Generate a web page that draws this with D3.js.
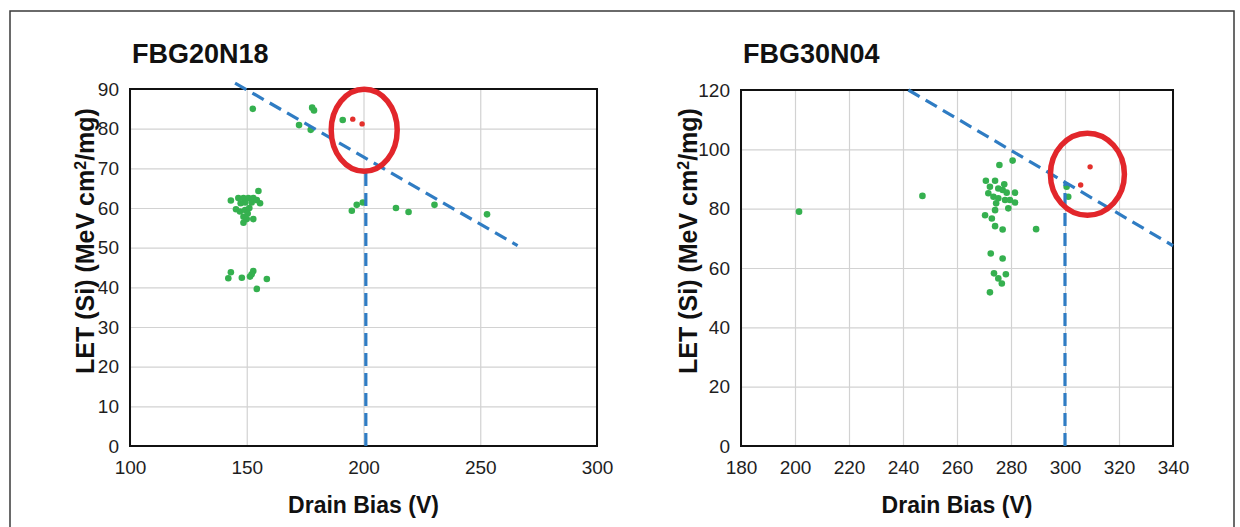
<!DOCTYPE html>
<html>
<head>
<meta charset="utf-8">
<script src="https://cdn.jsdelivr.net/npm/d3@7"></script>
<style>
  body { margin: 0; background: #fff; }
  text { font-family: "Liberation Sans", Arial, sans-serif; }
</style>
</head>
<body>
<script>
// ---- data ----
var leftTitle = "FBG20N18";
var leftXTicks = [100, 150, 200, 250, 300];
var leftYTicks = [0, 10, 20, 30, 40, 50, 60, 70, 80, 90];
var leftGreen = [
  [152.6, 85.0], [178.0, 85.3], [178.8, 84.6], [172.4, 80.9], [177.4, 79.7], [191.1, 82.2],
  [143.2, 61.9], [155.0, 64.3], [146.4, 62.5], [148.6, 62.5], [150.7, 62.5], [152.8, 62.5],
  [152.1, 61.4], [149.3, 61.4], [147.4, 61.2], [155.7, 61.2], [154.3, 62.0], [145.4, 59.7],
  [147.1, 59.1], [149.3, 59.5], [151.1, 60.0], [148.6, 57.8], [150.0, 57.2], [152.8, 57.2],
  [148.6, 56.3], [150.4, 58.6],
  [143.2, 43.8], [142.1, 42.3], [147.9, 42.4], [151.4, 42.7], [152.8, 44.1], [152.1, 43.3],
  [158.6, 42.1], [154.3, 39.6],
  [195.0, 59.3], [197.1, 60.8], [199.7, 61.4], [213.9, 60.0], [219.3, 59.0], [230.4, 60.8],
  [252.9, 58.4]
];
var leftRed = [[195.4, 82.4], [199.4, 81.2]];
var leftSlope = [[145, 91.5], [266, 50.5]];
var leftCut = [[201, 0], [201, 70]];
var leftCircle = [200.3, 79.6];

var rightTitle = "FBG30N04";
var rightXTicks = [180, 200, 220, 240, 260, 280, 300, 320, 340];
var rightYTicks = [0, 20, 40, 60, 80, 100, 120];
var rightGreen = [
  [201.5, 79.0], [247.2, 84.3], [275.7, 94.7], [280.6, 96.2],
  [270.7, 89.4], [274.1, 89.4], [272.2, 87.4], [275.3, 86.8], [276.9, 86.3], [278.4, 85.4],
  [281.5, 85.4], [271.6, 85.2], [273.5, 84.0], [275.3, 83.5], [277.8, 82.9], [281.5, 82.1],
  [279.6, 82.9], [274.5, 81.8], [279.0, 80.1], [274.1, 79.5], [270.4, 77.8], [272.9, 76.7],
  [274.1, 74.1], [276.9, 73.0], [289.3, 73.1], [272.5, 64.9], [276.9, 63.2], [273.7, 58.2],
  [275.3, 56.5], [278.1, 57.9], [276.6, 54.8], [272.2, 51.8], [277.5, 88.2],
  [300.6, 87.4], [301.2, 84.0]
];
var rightRed = [[309.3, 94.1], [305.8, 88.0]];
var rightSlope = [[242, 120], [340, 67.5]];
var rightCut = [[300, 0], [300, 89]];
var rightCircle = [308.3, 91.6];

var xLabel = "Drain Bias (V)";

// ---- drawing ----
var W = 1240, H = 527;
var svg = d3.select("body").append("svg")
  .attr("width", W)
  .attr("height", H);

// outer frame
svg.append("rect")
  .attr("x", 10).attr("y", 11)
  .attr("width", 1224).attr("height", 540)
  .attr("fill", "none")
  .attr("stroke", "#3a3a3a")
  .attr("stroke-width", 1.5);

function drawPanel(cfg) {
  var x = d3.scaleLinear().domain(cfg.xDomain).range([cfg.left, cfg.right]);
  var y = d3.scaleLinear().domain(cfg.yDomain).range([cfg.bottom, cfg.top]);
  var g = svg.append("g");

  // gridlines
  g.append("g")
    .attr("transform", "translate(0," + cfg.bottom + ")")
    .call(d3.axisBottom(x).tickValues(cfg.xTicks).tickSize(-(cfg.bottom - cfg.top)).tickFormat(""))
    .call(function(s) {
      s.select(".domain").remove();
      s.selectAll("line").attr("stroke", "#d2d2d2").attr("stroke-width", 1.2);
    });
  g.append("g")
    .attr("transform", "translate(" + cfg.left + ",0)")
    .call(d3.axisLeft(y).tickValues(cfg.yTicks).tickSize(-(cfg.right - cfg.left)).tickFormat(""))
    .call(function(s) {
      s.select(".domain").remove();
      s.selectAll("line").attr("stroke", "#d2d2d2").attr("stroke-width", 1.2);
    });

  // tick labels
  g.append("g")
    .attr("transform", "translate(0," + cfg.bottom + ")")
    .call(d3.axisBottom(x).tickValues(cfg.xTicks).tickSize(0).tickPadding(15))
    .call(function(s) {
      s.select(".domain").remove();
      s.selectAll("text").attr("font-size", 19).attr("fill", "#1e1e1e")
        .style("font-family", "'Liberation Sans', Arial, sans-serif");
    });
  g.append("g")
    .attr("transform", "translate(" + cfg.left + ",0)")
    .call(d3.axisLeft(y).tickValues(cfg.yTicks).tickSize(0).tickPadding(11))
    .call(function(s) {
      s.select(".domain").remove();
      s.selectAll("text").attr("font-size", 19).attr("fill", "#1e1e1e")
        .style("font-family", "'Liberation Sans', Arial, sans-serif");
    });

  // plot border
  g.append("rect")
    .attr("x", cfg.left).attr("y", cfg.top)
    .attr("width", cfg.right - cfg.left).attr("height", cfg.bottom - cfg.top)
    .attr("fill", "none")
    .attr("stroke", "#111")
    .attr("stroke-width", 2);

  var line = d3.line().x(function(d) { return x(d[0]); }).y(function(d) { return y(d[1]); });

  // green points
  g.selectAll("circle.green")
    .data(cfg.green)
    .enter()
    .append("circle")
    .attr("class", "green")
    .attr("cx", function(d) { return x(d[0]); })
    .attr("cy", function(d) { return y(d[1]); })
    .attr("r", 3.3)
    .attr("fill", "#35b04f");

  // dashed guide lines
  [cfg.slope, cfg.cut].forEach(function(seg) {
    g.append("path")
      .attr("d", line(seg))
      .attr("fill", "none")
      .attr("stroke", "#2f7cc3")
      .attr("stroke-width", 3.2)
      .attr("stroke-dasharray", "13,7");
  });

  // red points
  g.selectAll("circle.red")
    .data(cfg.red)
    .enter()
    .append("circle")
    .attr("class", "red")
    .attr("cx", function(d) { return x(d[0]); })
    .attr("cy", function(d) { return y(d[1]); })
    .attr("r", 2.7)
    .attr("fill", "#e3302c");

  // red ring
  g.append("ellipse")
    .attr("cx", x(cfg.circle[0]))
    .attr("cy", y(cfg.circle[1]))
    .attr("rx", cfg.rx).attr("ry", 41)
    .attr("fill", "none")
    .attr("stroke", "#e2262b")
    .attr("stroke-width", 5.5);

  // title
  g.append("text")
    .attr("x", cfg.left + 2)
    .attr("y", 63)
    .attr("font-size", 27)
    .attr("font-weight", "bold")
    .attr("fill", "#111")
    .text(cfg.title);

  // x label
  g.append("text")
    .attr("x", (cfg.left + cfg.right) / 2)
    .attr("y", 513)
    .attr("text-anchor", "middle")
    .attr("font-size", 23)
    .attr("font-weight", "bold")
    .attr("fill", "#111")
    .text(xLabel);

  // y label
  var yl = g.append("text")
    .attr("transform", "translate(" + cfg.yLabelX + ",241) rotate(-90)")
    .attr("text-anchor", "middle")
    .attr("font-size", 25)
    .attr("font-weight", "bold")
    .attr("fill", "#111");
  yl.append("tspan").text("LET (Si) (MeV cm");
  yl.append("tspan").attr("baseline-shift", "super").attr("font-size", 16).text("2");
  yl.append("tspan").text("/mg)");
}

drawPanel({
  title: leftTitle,
  left: 130, right: 597, top: 89, bottom: 446,
  xDomain: [100, 300], yDomain: [0, 90],
  xTicks: leftXTicks, yTicks: leftYTicks,
  green: leftGreen, red: leftRed,
  slope: leftSlope, cut: leftCut, circle: leftCircle, rx: 33,
  yLabelX: 94
});

drawPanel({
  title: rightTitle,
  left: 741, right: 1173, top: 90, bottom: 446,
  xDomain: [180, 340], yDomain: [0, 120],
  xTicks: rightXTicks, yTicks: rightYTicks,
  green: rightGreen, red: rightRed,
  slope: rightSlope, cut: rightCut, circle: rightCircle, rx: 37,
  yLabelX: 697
});
</script>
</body>
</html>
